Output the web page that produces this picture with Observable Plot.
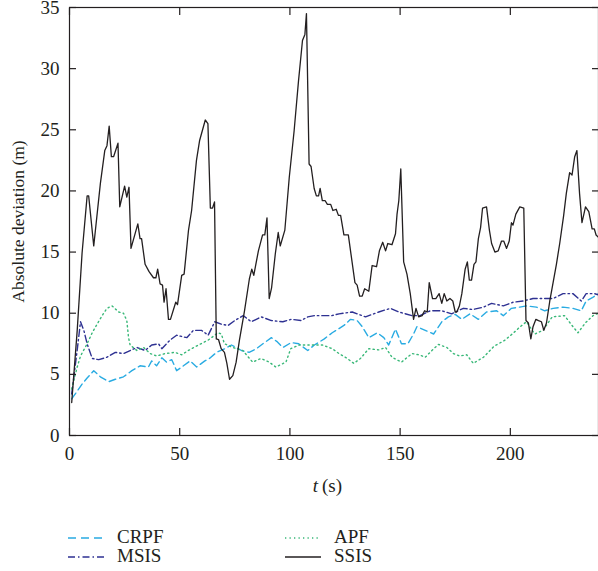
<!DOCTYPE html>
<html><head><meta charset="utf-8">
<script src="https://cdn.jsdelivr.net/npm/d3@7"></script>
<script src="https://cdn.jsdelivr.net/npm/@observablehq/plot@0.6"></script>
<style>
body{margin:0;background:#fff;font-family:"Liberation Serif","Times New Roman",serif;color:#231f20;}
#wrap{position:relative;width:598px;height:571px;}
.sw{position:absolute;}
.lt{position:absolute;font-size:19px;line-height:20px;height:20px;}
</style></head><body><div id="wrap"><div id="chart"></div></div>
<script>
// ---- data ----
const xTicks = [0, 50, 100, 150, 200];
const yTicks = [0, 5, 10, 15, 20, 25, 30, 35];
const xLabel = ["t", "(s)"];
const yLabel = "Absolute deviation (m)";
const names = ["CRPF", "MSIS", "APF", "SSIS"];
const colors = ["#29abe2", "#2e3192", "#39b878", "#231f20"];

const tSSIS = [1,3.5,5.7,8,8.7,11,14,16,17,18,19,20,22,22.8,25,26,27,27.9,31,32,32.7,34.3,36.1,38.1,39.2,40,41.1,42.2,42.9,43.8,44.9,45.8,48.2,49,50.9,52,54,55.4,57.6,59,61.6,62.8,63.9,64.9,65.8,66.6,67.6,68.8,70.3,71.4,72.6,74.1,75.6,77.1,79.4,81.6,82.7,83.6,85.7,87.6,88.6,89.6,90.6,91.7,93.4,94.7,95.6,97.7,99.7,101.9,103.9,105.7,106.8,107.5,108.7,109.6,111,112,113,113.7,114.7,116,117,118.5,119.5,121,122,123,124.5,126.5,127.5,129.5,130.5,131.6,132.8,133.9,135.8,137.3,139.3,140.6,142.1,143.4,144.4,146.3,147.9,148.6,149.4,150.3,151.6,153.1,154.6,156.1,157.2,158.4,160,161.1,162.3,163.2,164.7,166.2,167.7,168.9,170,171.2,172.6,173.9,175,175.7,176.9,178,179.5,180.5,181.4,182.4,183.5,184.4,185.5,186.5,187.4,189.2,190.5,191.5,193,194.5,196,197,198.3,199.5,200.5,201.2,202.5,204.3,206.1,207.1,208.2,209.3,210.3,211.6,212.8,214.1,215.2,216.4,217.9,219.4,220.9,222.4,224.2,225.4,226.9,228,229.2,230.2,231.4,232.5,234.1,235.6,237.1,238.1,238.9,240];
const vSSIS = [2.7,8.6,14.9,19.6,19.6,15.5,20.6,23.3,23.7,25.3,22.8,22.8,23.9,18.7,20.4,19.5,20.3,15.3,17.3,16.1,16.1,14.0,13.4,12.9,12.9,13.6,12.4,12.3,10.9,12.0,9.5,9.5,10.9,10.7,13.1,13.2,16.8,18.4,22.5,24.1,25.8,25.5,18.6,18.6,19.1,7.9,7.85,7.1,6.8,5.9,4.6,4.9,6.0,7.8,10.2,12.8,13.6,13.1,15.1,16.4,16.4,17.8,11.2,12.1,14.9,16.6,15.5,16.8,21.1,24.9,29.0,32.3,32.8,34.5,22.2,22.0,20.2,19.6,19.6,20.2,19.2,19.2,18.9,18.9,18.4,18.5,18.0,18.0,16.4,16.4,15.1,12.5,12.3,11.4,11.4,12.0,11.8,13.9,13.8,15.1,15.8,15.1,15.7,15.6,16.5,18.1,19.2,21.8,14.2,13.2,11.6,9.5,10.4,9.7,9.8,10.2,10.1,12.5,11.2,11.2,11.6,10.8,11.6,11.0,11.2,11.0,10.1,10.1,10.6,11.6,13.6,14.2,12.7,12.7,14.0,14.2,16.1,17.0,18.6,18.7,16.8,15.7,15.0,15.1,15.9,15.9,15.3,15.9,17.4,17.2,18.1,18.7,18.6,9.4,9.2,7.9,8.9,9.5,9.4,9.3,8.6,9.2,11.0,12.5,14.0,15.7,18.0,19.8,21.5,21.3,22.8,23.3,19.8,17.4,18.7,18.3,16.9,16.9,16.4,16.2];

const tCRPF = [1,3,5.7,8,11,14,17.8,20.8,24.5,28.3,32,35.8,37.3,39.5,41.9,44,46.4,48.6,51.7,54.7,57.7,61.4,63.5,66.7,70.5,73.5,78,81.5,84.8,88.5,91.6,94,96.8,100.6,104,108.1,111.1,115.6,119.2,124.5,127.5,130.5,132.8,135.8,139.6,142.6,144.8,147.9,150.6,153.5,156.1,157.6,161.4,165.2,168.9,171.9,175,178,181.7,185.5,189.2,193.8,196.8,200.5,204.3,207.3,211.8,215.6,219.4,223.9,228.4,232.2,234.4,237.4,240];
const vCRPF = [3.0,3.5,4.2,4.7,5.3,4.8,4.4,4.6,4.8,5.3,5.7,5.6,6.1,5.7,6.35,6.0,6.2,5.3,5.7,6.1,5.6,6.1,6.3,6.8,7.1,7.4,6.95,6.8,7.1,7.6,8.0,7.7,7.2,7.6,7.5,6.95,7.4,7.9,8.4,9.0,9.5,9.4,8.9,8.0,8.4,8.0,7.4,8.7,7.5,7.5,8.3,8.9,8.6,8.3,9.3,9.7,9.9,9.5,9.95,9.5,10.1,10.2,9.8,10.4,10.5,10.6,10.5,10.2,10.4,10.5,10.4,10.2,11.0,11.3,11.6];

const tMSIS = [1,3.5,5,6.5,8,10.3,13.3,17,20.8,24.5,27.5,30.6,34.3,37.3,40.4,41.9,45.6,48.6,53.2,56.2,59.9,62.9,65.9,68.9,72,75,78.8,82.5,87,91.6,96.8,100.6,105.1,108.1,111.1,115.6,119,122.3,128.3,134.3,140.3,145.6,149.4,155.4,159,163.7,168.9,173.4,178.7,183,187.8,191.5,196.8,201.3,205.8,210.3,214.8,219.4,223.9,228.4,232.2,234.4,238.2,240];
const vMSIS = [3.4,7.0,9.3,8.6,7.5,6.3,6.2,6.4,6.8,6.7,6.95,7.2,6.95,7.4,7.5,7.1,7.8,8.2,8.0,8.6,8.6,8.2,9.3,9.1,9.0,9.4,9.8,9.3,9.7,9.4,9.3,9.5,9.4,9.7,9.8,9.8,9.8,9.95,10.1,9.7,10.1,10.4,10.1,9.8,9.8,10.2,10.2,9.95,10.4,10.3,10.5,10.8,10.6,10.9,11.0,11.2,11.2,11.2,11.6,11.6,11.0,11.6,11.6,11.5];

const tAPF = [1,3.5,5,8,10.3,12.5,14.8,17,19.3,22.3,24.5,26,26.8,27.5,30.6,33.6,36.6,39.6,43.4,47.9,50.9,53.9,58.5,62.9,65.9,67.3,68.9,70.3,74.1,78.6,83.1,86.9,90.6,93.6,98.2,100.4,104.2,108.7,112,114.7,119.2,122.3,126,129,132,135.8,140.3,143.4,146.3,150.6,155.4,158.5,161.4,164.4,167.4,171.2,174.2,177,180.2,183.2,187.8,192.6,197.6,201.5,204.5,207.3,211.1,214.8,219,224.6,228.4,230.7,234,237.5,240];
const vAPF = [3.8,5.6,6.5,7.5,8.4,9.1,9.8,10.4,10.6,10.1,10.0,9.4,8.0,7.4,6.95,7.2,6.7,6.5,6.7,6.8,6.6,6.95,7.4,7.8,8.2,8.4,8.3,7.5,7.2,6.95,6.0,6.3,6.0,5.6,6.0,7.1,7.4,7.4,7.4,7.4,7.1,6.7,6.3,5.9,6.3,7.1,7.0,7.2,6.4,6.0,6.7,6.6,6.4,6.95,7.45,7.2,6.7,6.5,6.6,5.9,6.4,7.3,7.8,8.4,8.9,9.3,8.3,8.6,9.7,9.8,8.9,8.4,9.2,9.8,10.0];

const dashes = ["7,4", "7,3,1.5,3", "1.3,3.2", null];
const tArr = [tCRPF, tMSIS, tAPF, tSSIS];
const vArr = [vCRPF, vMSIS, vAPF, vSSIS];
const rows = tArr.map((ts, k) => ts.map((t, i) => ({t, v: vArr[k][i], name: names[k]})));

const ink = "#231f20";
const plot = Plot.plot({
  width: 598, height: 515,
  marginLeft: 69, marginRight: 0, marginTop: 7, marginBottom: 80,
  style: {fontFamily: '"Liberation Serif", "Times New Roman", serif', fontSize: "19px", color: ink, background: "white", overflow: "visible"},
  x: {domain: [0, 240]},
  y: {domain: [0, 35]},
  marks: [
    ...rows.map((r, k) => Plot.line(r, {x: "t", y: "v", stroke: colors[k], strokeWidth: k === 3 ? 1.3 : 1.4, strokeDasharray: dashes[k]})),
    Plot.frame({stroke: ink, strokeWidth: 1.2}),
    Plot.axisY(yTicks, {anchor: "left", tickSize: 0, tickPadding: 10, label: null, fontSize: 19}),
    Plot.axisY(yTicks, {anchor: "left", tickSize: -7, tickFormat: () => "", label: null, stroke: ink, strokeWidth: 1.2}),
    Plot.axisY(yTicks, {anchor: "right", tickSize: -7, tickFormat: () => "", label: null, stroke: ink, strokeWidth: 1.2}),
    Plot.axisX(xTicks, {anchor: "bottom", tickSize: 0, tickPadding: 11, label: null, fontSize: 19}),
    Plot.axisX(xTicks, {anchor: "bottom", tickSize: -7, tickFormat: () => "", label: null, stroke: ink, strokeWidth: 1.2}),
    Plot.axisX(xTicks, {anchor: "top", tickSize: -7, tickFormat: () => "", label: null, stroke: ink, strokeWidth: 1.2}),
    Plot.text([yLabel], {frameAnchor: "left", textAnchor: "middle", rotate: -90, dx: -51, fontSize: 17.5, fill: ink}),
    Plot.text([xLabel[0]], {frameAnchor: "bottom", dx: -16, dy: 56, textAnchor: "end", fontStyle: "italic", fontSize: 19, fill: ink}),
    Plot.text([xLabel[1]], {frameAnchor: "bottom", dx: -12, dy: 56, textAnchor: "start", fontSize: 19, fill: ink})
  ]
});
document.getElementById("chart").appendChild(plot);

// legend (HTML below the SVG)
const wrap = document.getElementById("wrap");
const legPos = [[68, 538], [68, 557], [285, 538], [285, 557]];
names.forEach((n, k) => {
  const [lx, ly] = legPos[k];
  const s = d3.create("svg").attr("class", "sw").attr("width", 36).attr("height", 6)
    .style("left", lx + "px").style("top", (ly - 3) + "px");
  s.append("line").attr("x1", 0).attr("x2", 36).attr("y1", 3).attr("y2", 3)
    .attr("stroke", colors[k]).attr("stroke-width", k === 3 ? 1.3 : 1.4)
    .attr("stroke-dasharray", dashes[k] ? (k === 0 ? "8,5" : dashes[k]) : null);
  wrap.appendChild(s.node());
  const d = document.createElement("div");
  d.className = "lt"; d.textContent = n;
  d.style.left = (lx + 49) + "px"; d.style.top = (ly - 11) + "px";
  wrap.appendChild(d);
});
</script></body></html>
